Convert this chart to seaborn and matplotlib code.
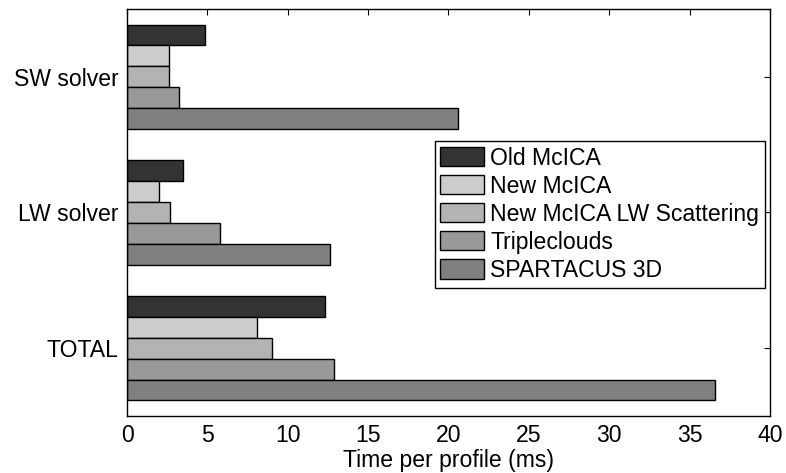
import matplotlib
matplotlib.use("Agg")
import matplotlib.pyplot as plt
import numpy as np
import pandas as pd
import seaborn as sns

# ============================================================
# DATOS: tiempo por perfil (ms) para cada solver y esquema
# ============================================================
grupos = ["SW solver", "LW solver", "TOTAL"]
esquemas = ["Old McICA", "New McICA", "New McICA LW Scattering",
            "Tripleclouds", "SPARTACUS 3D"]
old_mcica = [4.85, 3.5, 12.3]
new_mcica = [2.6, 2.0, 8.1]
new_mcica_lw = [2.6, 2.7, 9.0]
tripleclouds = [3.25, 5.8, 12.85]
spartacus_3d = [20.6, 12.6, 36.6]
colores = ["#333333", "#cccccc", "#b3b3b3", "#999999", "#808080"]

series = [old_mcica, new_mcica, new_mcica_lw, tripleclouds, spartacus_3d]
filas = []
for esquema, valores in zip(esquemas, series):
    for g, v in zip(grupos, valores):
        filas.append({"grupo": g, "esquema": esquema, "tiempo": v})
df = pd.DataFrame(filas)

sns.set_style("white")
plt.rcParams["font.family"] = ["Liberation Sans", "DejaVu Sans"]
plt.rcParams["font.size"] = 16.6
plt.rcParams["text.color"] = "black"
plt.rcParams["axes.labelcolor"] = "black"
plt.rcParams["xtick.color"] = "black"
plt.rcParams["ytick.color"] = "black"

FS = 16.6

fig = plt.figure(figsize=(7.86, 4.73), dpi=100)
ax = fig.add_axes([0.1616, 0.1205, 0.818, 0.8605])

sns.barplot(data=df, y="grupo", x="tiempo", hue="esquema",
            order=grupos, hue_order=esquemas, palette=colores,
            orient="h", width=0.77, edgecolor="black", linewidth=1.0,
            saturation=1, ax=ax)

ax.set_xlim(0, 40)
ax.set_ylim(2.5, -0.5)
ax.set_xticks(np.arange(0, 41, 5))
ax.set_xlabel("Time per profile (ms)", fontsize=FS, labelpad=1)
ax.set_ylabel("")

# ejes estilo "caja" con ticks hacia adentro en los 4 lados
for s in ax.spines.values():
    s.set_visible(True)
    s.set_color("black")
    s.set_linewidth(1.0)
ax.tick_params(axis="both", direction="in", length=4, width=0.8,
               top=True, right=True, labelsize=FS, pad=6,
               colors="black", labelcolor="black")

sns.move_legend(ax, "upper right", bbox_to_anchor=(0.992, 0.676),
                title=None, frameon=True, fancybox=False, fontsize=FS,
                handlelength=1.9, handleheight=0.9, handletextpad=0.26,
                labelspacing=0.22, borderpad=0.25, borderaxespad=0,
                labelcolor="black")
leg = ax.get_legend()
leg.get_frame().set_edgecolor("black")
leg.get_frame().set_linewidth(1.0)
leg.get_frame().set_alpha(1)
for h in leg.get_patches():
    h.set_edgecolor("black")
    h.set_linewidth(1.0)

fig.savefig("out.png", dpi=100)
